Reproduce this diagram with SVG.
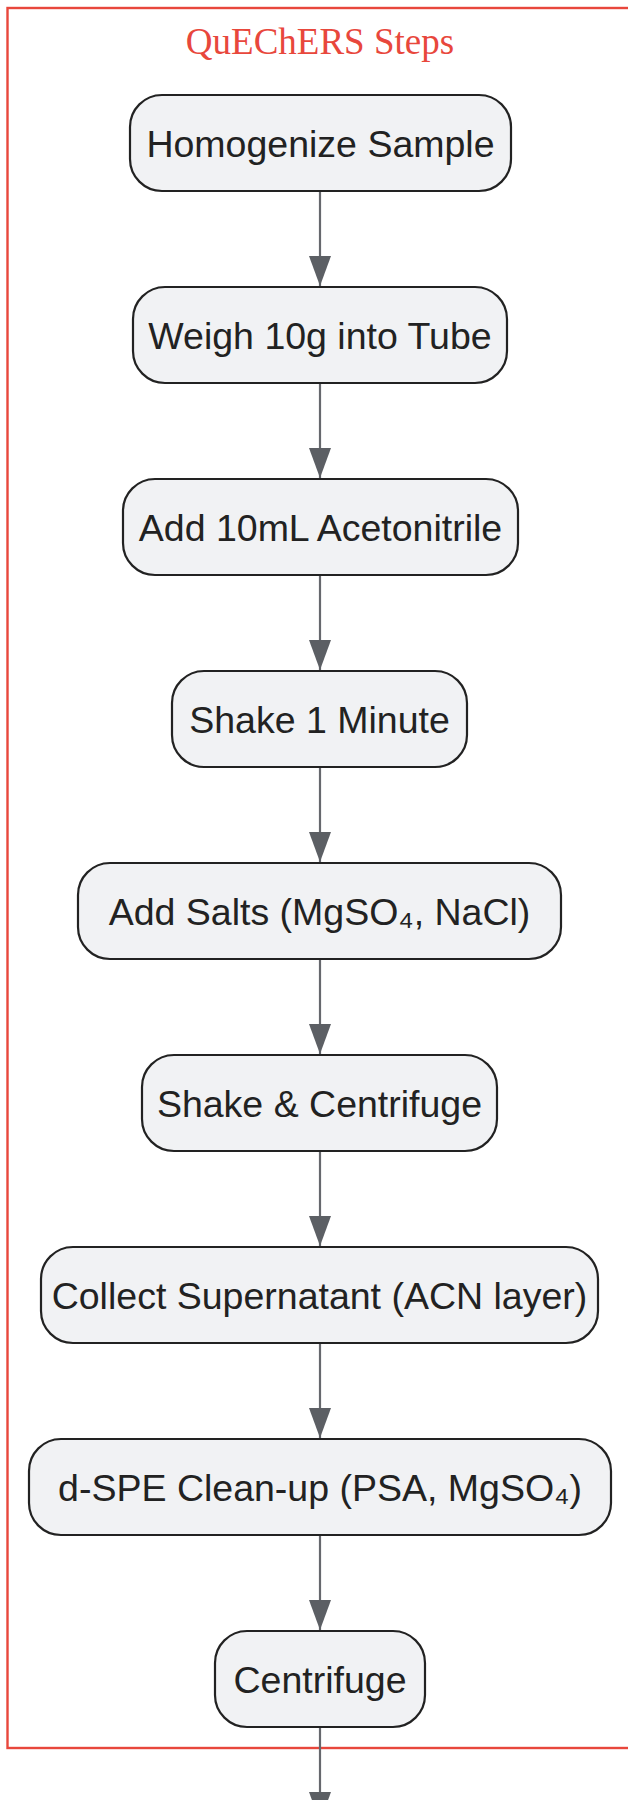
<svg xmlns="http://www.w3.org/2000/svg" width="628" height="1800" viewBox="0 0 628 1800">
<style>
.node rect{fill:#f1f2f4;stroke:#222;stroke-width:2.2}
.node text{font-family:"Liberation Sans",Arial,sans-serif;font-size:37.5px;fill:#222;text-anchor:middle}
.edge{stroke:#66686d;stroke-width:2.2;fill:none;marker-end:url(#ah)}
</style>
<defs>
<marker id="ah" markerUnits="userSpaceOnUse" markerWidth="30" markerHeight="22" refX="30" refY="11" orient="auto">
<path d="M0,0 L30,11 L0,22 z" fill="#5c5f64"/>
</marker>
</defs>
<g id="cluster">
<rect x="7.5" y="8" width="640" height="1740" fill="none" stroke="#e8473c" stroke-width="2.4"/>
<text x="320" y="54" font-family="Liberation Serif,'Times New Roman',serif" font-size="37" fill="#e8473c" text-anchor="middle">QuEChERS Steps</text>
</g>
<g id="connectors">
<line class="edge" x1="320" y1="191" x2="320" y2="286"/>
<line class="edge" x1="320" y1="383" x2="320" y2="478"/>
<line class="edge" x1="320" y1="575" x2="320" y2="670"/>
<line class="edge" x1="320" y1="767" x2="320" y2="862"/>
<line class="edge" x1="320" y1="959" x2="320" y2="1054"/>
<line class="edge" x1="320" y1="1151" x2="320" y2="1246"/>
<line class="edge" x1="320" y1="1343" x2="320" y2="1438"/>
<line class="edge" x1="320" y1="1535" x2="320" y2="1630"/>
<line class="edge" x1="320" y1="1727" x2="320" y2="1822"/>
</g>
<g id="n1" class="node"><rect x="130" y="95" width="381" height="96" rx="32"/><text x="320.5" y="157">Homogenize Sample</text></g>
<g id="n2" class="node"><rect x="133" y="287" width="374" height="96" rx="32"/><text x="320" y="349">Weigh 10g into Tube</text></g>
<g id="n3" class="node"><rect x="123" y="479" width="395" height="96" rx="32"/><text x="320.5" y="541">Add 10mL Acetonitrile</text></g>
<g id="n4" class="node"><rect x="172" y="671" width="295" height="96" rx="32"/><text x="319.5" y="733">Shake 1 Minute</text></g>
<g id="n5" class="node"><rect x="78" y="863" width="483" height="96" rx="32"/><text x="319.5" y="925">Add Salts (MgSO₄, NaCl)</text></g>
<g id="n6" class="node"><rect x="142" y="1055" width="355" height="96" rx="32"/><text x="319.5" y="1117">Shake &amp; Centrifuge</text></g>
<g id="n7" class="node"><rect x="41" y="1247" width="557" height="96" rx="32"/><text x="319.5" y="1309">Collect Supernatant (ACN layer)</text></g>
<g id="n8" class="node"><rect x="29" y="1439" width="582" height="96" rx="32"/><text x="320" y="1501">d-SPE Clean-up (PSA, MgSO₄)</text></g>
<g id="n9" class="node"><rect x="215" y="1631" width="210" height="96" rx="32"/><text x="320" y="1693">Centrifuge</text></g>
</svg>
